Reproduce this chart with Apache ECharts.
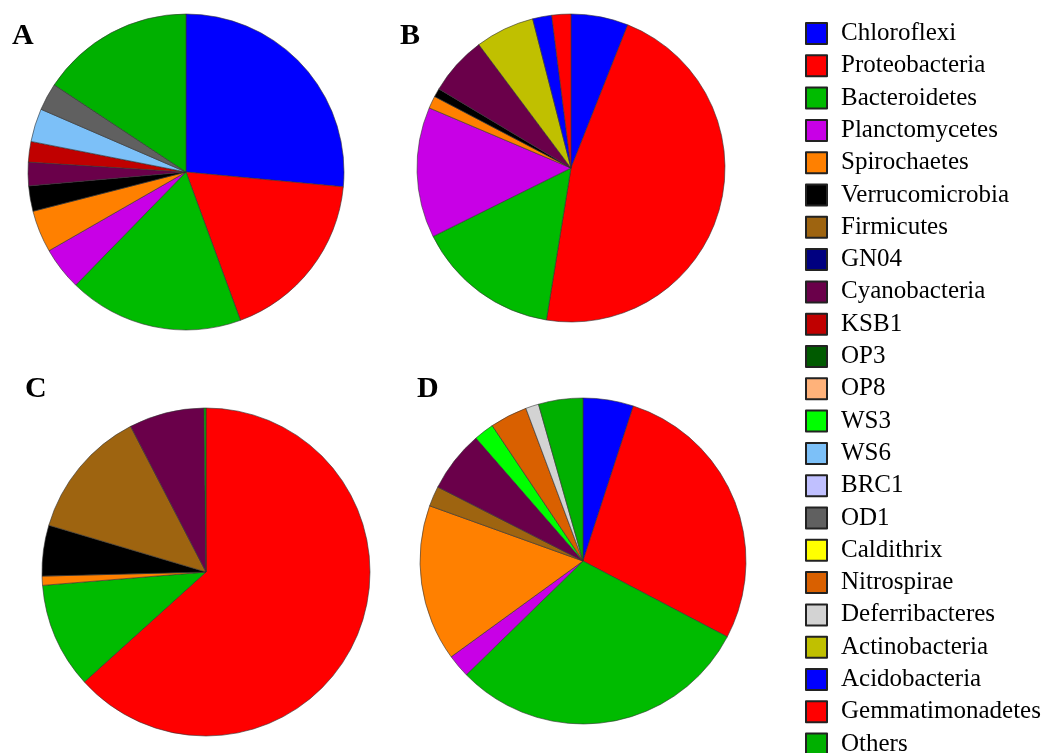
<!DOCTYPE html>
<html>
<head>
<meta charset="utf-8">
<script src="https://cdn.jsdelivr.net/npm/echarts@6/dist/echarts.min.js"></script>
<style>
  html, body { margin: 0; padding: 0; background: #fff; }
  #chart { width: 1055px; height: 753px; }
</style>
</head>
<body>
<div id="chart"></div>
<script>
// phylum order = legend order = clockwise slice order
const phyla = [
  "Chloroflexi", "Proteobacteria", "Bacteroidetes", "Planctomycetes", "Spirochaetes",
  "Verrucomicrobia", "Firmicutes", "GN04", "Cyanobacteria", "KSB1", "OP3", "OP8",
  "WS3", "WS6", "BRC1", "OD1", "Caldithrix", "Nitrospirae", "Deferribacteres",
  "Actinobacteria", "Acidobacteria", "Gemmatimonadetes", "Others"
];
const phylaColors = [
  "#0000ff", "#ff0000", "#00bb00", "#c800e6", "#ff8000",
  "#000000", "#9e6410", "#000080", "#6a004a", "#c00000", "#005a00", "#ffb27a",
  "#00ff00", "#7cc0f8", "#c0c0ff", "#606060", "#ffff00", "#d96000", "#d3d3d3",
  "#c0c000", "#0000ff", "#ff0000", "#00b000"
];

// relative abundance (%) per sample, zero = not shown
const valuesA = [26.5, 17.9, 17.9, 4.4, 4.3, 2.6, 0, 0, 2.4, 2.1, 0, 0, 0, 3.4, 0, 2.8, 0, 0, 0, 0, 0, 0, 15.7];
const valuesB = [6.0, 46.5, 15.1, 13.7, 1.3, 0.9, 0, 0, 6.2, 0, 0, 0, 0, 0, 0, 0, 0, 0, 0, 6.2, 2.0, 2.0, 0];
const valuesC = [0, 63.3, 10.4, 0, 0.9, 5.0, 12.8, 0, 7.4, 0, 0, 0, 0, 0, 0, 0, 0, 0, 0, 0, 0, 0, 0.2];
const valuesD = [5.0, 27.7, 30.0, 2.3, 15.5, 0, 2.0, 0, 6.1, 0, 0, 0, 2.0, 0, 0, 0, 0, 3.7, 1.3, 0, 0, 0, 4.4];

const panelLabels = ["A", "B", "C", "D"];

const toData = vals => phyla
  .map((name, i) => ({ name: name, value: vals[i], itemStyle: { color: phylaColors[i] } }))
  .filter(d => d.value > 0);

const pieSeries = (vals, center, radius) => ({
  type: "pie",
  center: center,
  radius: radius,
  startAngle: 90,
  clockwise: true,
  label: { show: false },
  labelLine: { show: false },
  emphasis: { disabled: true },
  itemStyle: { borderColor: "#333", borderWidth: 0.6 },
  data: toData(vals)
});

// phyla that appear in no sample still need a legend entry
const unusedData = phyla
  .map((name, i) => ({ name: name, value: 1, itemStyle: { color: phylaColors[i] } }))
  .filter((d, i) => !valuesA[i] && !valuesB[i] && !valuesC[i] && !valuesD[i]);

const chart = echarts.init(document.getElementById("chart"));

const titleStyle = {
  fontFamily: "Liberation Serif",
  fontWeight: "bold",
  fontSize: 30,
  lineHeight: 30,
  color: "#000"
};

chart.setOption({
  backgroundColor: "#fff",
  animation: false,
  title: [
    { text: panelLabels[0], left: 12, top: 21, padding: 0, textStyle: titleStyle },
    { text: panelLabels[1], left: 400, top: 21, padding: 0, textStyle: titleStyle },
    { text: panelLabels[2], left: 25, top: 374, padding: 0, textStyle: titleStyle },
    { text: panelLabels[3], left: 417, top: 374, padding: 0, textStyle: titleStyle }
  ],
  legend: {
    orient: "vertical",
    left: 805,
    top: 21,
    height: 900,
    padding: 0,
    itemWidth: 21,
    itemHeight: 21,
    itemGap: 7.3,
    icon: "rect",
    selectedMode: false,
    data: phyla,
    itemStyle: { borderColor: "#222", borderWidth: 2 },
    textStyle: {
      fontFamily: "Liberation Serif",
      fontSize: 25,
      lineHeight: 21,
      color: "#000",
      padding: [0, 0, 0, 9]
    }
  },
  series: [
    pieSeries(valuesA, [186, 172], 158),
    pieSeries(valuesB, [571, 168], 154),
    pieSeries(valuesC, [206, 572], 164),
    pieSeries(valuesD, [583, 561], 163),
    {
      type: "pie",
      center: [186, 172],
      radius: 0,
      silent: true,
      label: { show: false },
      labelLine: { show: false },
      itemStyle: { borderWidth: 0 },
      data: unusedData
    }
  ]
});
</script>
</body>
</html>
